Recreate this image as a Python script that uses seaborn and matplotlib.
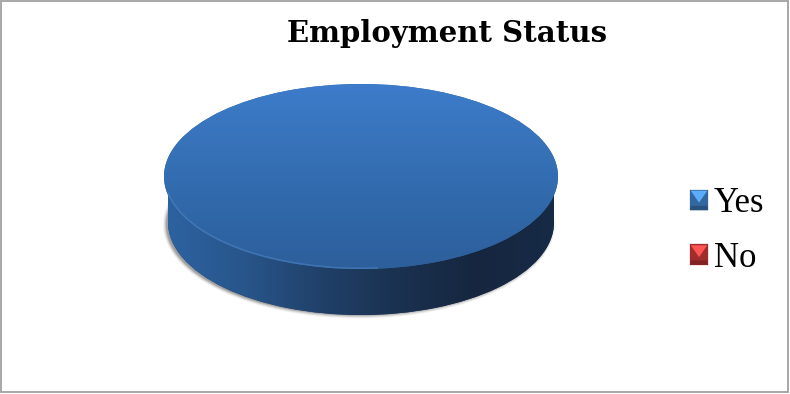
import numpy as np
import matplotlib
matplotlib.use("Agg")
import matplotlib.pyplot as plt
from matplotlib.colors import to_rgb
from matplotlib.legend_handler import HandlerBase
from matplotlib.patches import Arc, Ellipse, Patch, Polygon, Rectangle
import seaborn as sns

# Survey responses
categories = ["Yes", "No"]
shares = [100, 0]
slice_colors = ["#33689f", "#a12c2c"]

W, H = 790, 394
sns.set_theme(style="white", rc={"font.family": ["Liberation Serif", "DejaVu Serif"]})
fig = plt.figure(figsize=(W / 100, H / 100), dpi=100, facecolor="white")


def pixel_axes(x0, y0, x1, y1, zorder):
    """Axes placed by pixel box, y measured from the top of the figure."""
    ax = fig.add_axes([x0 / W, 1 - y1 / H, (x1 - x0) / W, (y1 - y0) / H], zorder=zorder)
    ax.set_axis_off()
    return ax


def draw_pie(ax, colors):
    wedges, _ = ax.pie(shares, colors=colors, radius=1, startangle=90, counterclock=False,
                       wedgeprops={"linewidth": 0, "edgecolor": "none"})
    ax.set_aspect("auto")
    ax.set_xlim(-1, 1)
    ax.set_ylim(-1, 1)
    return wedges


def gradient(ax, stops, horizontal, clip, extent=(-1, 1, -1, 1)):
    cmap = sns.blend_palette(stops, as_cmap=True)
    ramp = np.linspace(0, 1, 400)
    ramp = ramp[None, :] if horizontal else ramp[:, None]
    img = ax.imshow(ramp, cmap=cmap, extent=extent, origin="upper", aspect="auto",
                    interpolation="bilinear", zorder=2)
    img.set_clip_path(clip)
    ax.set_xlim(-1, 1)
    ax.set_ylim(-1, 1)


# Soft drop shadow under the disc
shadow_ax = pixel_axes(0, 0, W, H, 1)
shadow_ax.set_xlim(0, W)
shadow_ax.set_ylim(H, 0)
for grow, alpha in zip([3.0, 2.0, 1.0, 0.0], [0.06, 0.10, 0.16, 0.22]):
    shadow_ax.add_patch(Ellipse((359, 224.5), 2 * (193 + grow), 2 * (91 + grow),
                                fc="#303030", ec="none", alpha=alpha))

# Side wall: the lower disc plus the band joining it to the upper one
side_ax = pixel_axes(168, 130, 554, 315, 2)
side_wedges = draw_pie(side_ax, ["#1d3a60", slice_colors[1]])
wall = Rectangle((-1, 0), 2, 0.56, transform=side_ax.transData, fc="#1d3a60", ec="none", zorder=1)
side_ax.add_patch(wall)
side_ax.set_xlim(-1, 1)
side_ax.set_ylim(-1, 1)
side_stops = ["#2d62a0", "#28558a", "#204068", "#1a3150", "#16263f", "#172a46"]
gradient(side_ax, side_stops, True, wall)
gradient(side_ax, side_stops, True, side_wedges[0])

# Top face with its vertical sheen
top_ax = pixel_axes(164, 84, 558, 269, 3)
top_wedges = draw_pie(top_ax, ["#33689f", slice_colors[1]])
gradient(top_ax, ["#3d7ccb", "#3772b9", "#3068a9", "#2d5f9b"], False, top_wedges[0])

# Bevel highlight along the lower left rim
top_ax.add_patch(Arc((0, 0), 1.99, 1.985, theta1=190, theta2=275, color="#4f86c8",
                     lw=1.1, alpha=0.55, zorder=3))

title = fig.text(447.5 / W, 1 - 34 / H, "Employment Status", fontsize=21, fontweight="heavy",
                 family="DejaVu Serif", color="black", ha="center", va="center")


class BevelHandler(HandlerBase):
    """Small square swatch with a bright upper facet and a darker base."""

    def create_artists(self, legend, orig_handle, xdescent, ydescent, width, height, fontsize, trans):
        base = np.array(to_rgb(orig_handle.get_facecolor()))
        x0, y0 = -xdescent, -ydescent
        x1, y1 = x0 + width, y0 + height
        xc, yc = (x0 + x1) / 2, y0 + height * 0.38
        inset = width * 0.06
        light = np.clip(base * 1.45 + 0.08, 0, 1)
        dark = base * 0.8
        facets = [
            ([(x0, y0), (x1, y0), (x1, y1), (x0, y1)], base),
            ([(x0, y0), (x1, y0), (x1 - inset, y0 + height * 0.2), (x0 + inset, y0 + height * 0.2)], dark),
            ([(x0 + inset, y1 - inset), (x1 - inset, y1 - inset), (xc, yc)], light),
        ]
        return [Polygon(pts, closed=True, fc=col, ec=col, lw=0.2, transform=trans)
                for pts, col in facets]


handles = [Patch(facecolor=c, label=l) for c, l in zip(slice_colors, categories)]
fig.legend(handles=handles, labels=categories, handler_map={Patch: BevelHandler()},
           loc="center left", bbox_to_anchor=(690 / W, 1 - 231 / H), frameon=False,
           fontsize=25, labelcolor="black", handlelength=0.52, handleheight=0.52,
           handletextpad=0.17, labelspacing=0.62, borderpad=0, borderaxespad=0)

# Thin grey frame round the whole figure
fig.add_artist(Rectangle((0.5 / W, 2 / H), (W - 2.5) / W, (H - 3) / H, transform=fig.transFigure,
                         fill=False, ec="#a0a0a0", lw=1.3))

fig.savefig("out.png", dpi=100, facecolor="white")
